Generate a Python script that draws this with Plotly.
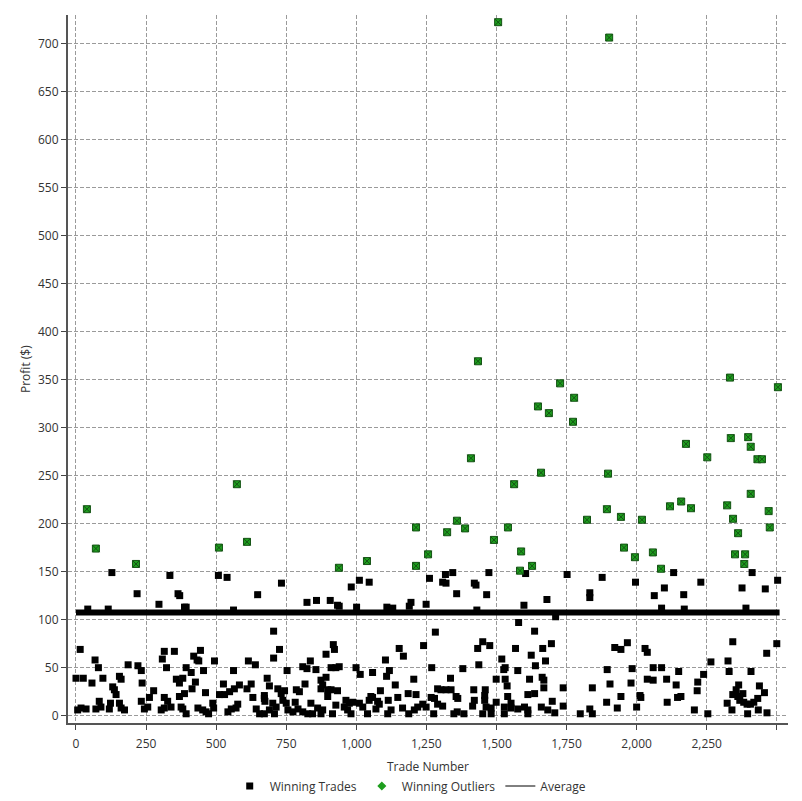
import plotly.graph_objects as go

# ---------------- data ----------------
win_trade_num = [
    128, 335, 218, 364, 370, 296, 387, 393, 42, 115,
    15, 315, 351, 308, 68, 80, 323, 186, 221, 233, 393,
    0, 26, 57, 96, 155, 161, 131, 137, 143, 236, 358, 369, 381,
    277, 262, 315, 327, 369, 387,
    18, 36, 6, 83, 89, 71, 123, 119, 155, 161, 173, 233, 256, 244, 315, 304, 339, 375, 393, 381,
    508, 539, 733, 648, 824, 562,
    705, 726, 705, 444, 420, 432, 438, 494, 615, 640, 455, 411, 562, 753, 809, 824,
    426, 682, 526, 414, 462, 583, 565, 548, 530, 512, 625, 610, 690, 720, 744, 732,
    631, 672, 672, 674, 702, 714, 786, 797, 817, 782, 488, 491,
    435, 452, 464, 473, 542, 554, 577, 571, 643, 655, 672, 690, 708, 738, 750, 756, 774, 792, 809, 827,
    1011, 1046, 982, 858, 907, 933, 939, 1001, 1109, 1130, 1189, 1195, 1249,
    918, 922, 892, 1153, 1168, 1240, 1104, 836, 856, 910, 927, 939, 999, 1014, 1058, 1118, 1108, 1205,
    892, 874, 880, 874, 898, 910, 933, 1139, 1086, 1185, 1213, 1148, 1114, 1052, 1058, 1046, 898, 838,
    963, 975, 987, 1011, 1023, 927, 1076, 1082, 1165, 1219, 1237, 1249,
    862, 880, 844, 874, 915, 957, 969, 981, 1040, 1070, 1112, 1124, 1187, 1207,
    1604, 1473, 1344, 1318, 1261, 1308, 1320, 1421, 1427, 1358, 1465, 1680, 1598, 1430,
    1579, 1636, 1282, 1451, 1476, 1433, 1568, 1665, 1624, 1519, 1675, 1437, 1639, 1269, 1380, 1531, 1526, 1576,
    1336, 1499, 1531, 1538, 1618, 1663, 1669, 1669, 1290, 1302, 1320, 1338, 1419, 1460,
    1540, 1612, 1636, 1356, 1362, 1267, 1279, 1458, 1458, 1290, 1308, 1421, 1415, 1499, 1463, 1481,
    1528, 1528, 1552, 1552, 1576, 1600, 1612, 1612, 1660, 1683,
    1276, 1348, 1360, 1384, 1451, 1481,
    1752, 1877, 1996, 1833, 1833, 2099, 2063, 2089, 1711,
    1696, 1967, 1922, 1944, 2030, 2038, 1895, 1984, 2059, 2089, 2038, 2059, 2107, 1980, 1905, 1738, 1842,
    1944, 2012, 2015, 1699, 1893, 2109, 1738, 1708, 1799, 1833, 1842, 1931, 2000,
    2132, 2412, 2503, 2229, 2376, 2459, 2168, 2390, 2170,
    2343, 2500, 2464, 2265, 2326, 2150, 2239, 2330, 2408, 2141, 2218, 2216, 2146, 2158, 2206, 2254,
    2364, 2355, 2343, 2361, 2379, 2368, 2382, 2394, 2406, 2418, 2432, 2438, 2456, 2323, 2340, 2396, 2434, 2465,
]
win_profit = [
    149, 146, 127, 127, 125, 116, 113, 113, 111, 111,
    69, 67, 67, 59, 58, 50, 50, 53, 52, 47, 50,
    39, 39, 34, 39, 41, 38, 30, 27, 22, 34, 38, 34, 39,
    26, 19, 19, 15, 20, 23,
    8, 7, 6, 15, 9, 7, 13, 7, 13, 8, 6, 15, 9, 7, 8, 6, 9, 9, 2, 7,
    146, 144, 138, 126, 118, 110,
    88, 69, 60, 68, 62, 58, 57, 57, 57, 53, 47, 45, 47, 47, 51, 49,
    35, 39, 33, 28, 24, 32, 28, 25, 22, 22, 33, 28, 31, 28, 26, 23,
    19, 21, 18, 15, 13, 9, 27, 25, 33, 14, 13, 8,
    8, 6, 4, 2, 4, 7, 12, 8, 7, 2, 2, 6, 2, 16, 13, 6, 4, 7, 4, 2,
    141, 139, 134, 120, 120, 115, 114, 113, 113, 112, 114, 118, 116,
    74, 69, 64, 70, 62, 73, 58, 57, 48, 50, 50, 51, 50, 43, 45, 47, 41, 38,
    40, 37, 32, 28, 27, 27, 26, 32, 26, 23, 22, 19, 16, 20, 19, 16, 20, 13,
    16, 13, 14, 13, 9, 11, 15, 12, 8, 9, 12, 9,
    8, 6, 2, 2, 2, 9, 6, 2, 2, 7, 2, 6, 2, 6,
    148, 149, 149, 147, 143, 139, 138, 138, 136, 127, 126, 121, 115, 110,
    97, 88, 87, 77, 73, 70, 70, 70, 63, 59, 57, 53, 52, 50, 49, 50, 48, 47,
    39, 38, 38, 31, 38, 40, 37, 29, 28, 27, 27, 27, 27, 27,
    20, 22, 23, 20, 18, 19, 18, 21, 16, 12, 10, 16, 10, 14, 9, 8,
    9, 2, 13, 8, 7, 9, 6, 2, 9, 6,
    2, 2, 4, 2, 2, 2,
    147, 144, 139, 128, 123, 133, 125, 112, 103,
    75, 76, 71, 69, 70, 66, 48, 49, 50, 50, 38, 37, 38, 34, 33, 29, 29,
    20, 21, 19, 15, 14, 14, 10, 3, 2, 7, 2, 8, 9,
    149, 149, 141, 139, 133, 132, 126, 112, 111,
    77, 75, 65, 56, 57, 46, 43, 46, 46, 32, 35, 26, 19, 20, 6, 2,
    32, 27, 22, 20, 23, 16, 14, 12, 12, 14, 18, 31, 24, 13, 6, 2, 6, 3,
]

outlier_trade_num = [
    39, 71, 214, 510, 574, 610, 938, 1038, 1213, 1213, 1256, 1324, 1359, 1388,
    1409, 1434, 1491, 1506, 1541, 1563, 1588, 1584, 1627, 1648, 1659, 1687,
    1727, 1777, 1773, 1823, 1894, 1898, 1902, 1944, 1955, 1994, 2019, 2058,
    2087, 2119, 2159, 2176, 2194, 2252, 2323, 2333, 2336, 2398, 2407, 2431,
    2447, 2407, 2344, 2471, 2475, 2504, 2362, 2351, 2387, 2384,
]
outlier_profit = [
    215, 174, 158, 175, 241, 181, 154, 161, 196, 156, 168, 191, 203, 195,
    268, 369, 183, 722, 196, 241, 171, 151, 156, 322, 253, 315,
    346, 331, 306, 204, 215, 252, 706, 207, 175, 165, 204, 170,
    153, 218, 223, 283, 216, 269, 219, 352, 289, 290, 280, 267,
    267, 231, 205, 213, 196, 342, 190, 168, 168, 158,
]

average_profit = 107.5
average_span = [0, 2510]

x_tick_vals = [0, 250, 500, 750, 1000, 1250, 1500, 1750, 2000, 2250, 2500]
x_tick_text = ["0", "250", "500", "750", "1,000", "1,250", "1,500", "1,750", "2,000", "2,250", ""]
y_tick_vals = list(range(0, 701, 50))

FONT = "Open Sans"
GREEN = "#1e9e1e"

fig = go.Figure()

fig.add_trace(go.Scatter(
    x=average_span, y=[average_profit, average_profit], mode="lines",
    line=dict(color="black", width=6), showlegend=False, hoverinfo="skip",
))
fig.add_trace(go.Scatter(
    x=win_trade_num, y=win_profit, mode="markers",
    marker=dict(symbol="square", size=7, color="black"),
    showlegend=False,
))
fig.add_trace(go.Scatter(
    x=outlier_trade_num, y=outlier_profit, mode="markers",
    marker=dict(symbol="square-x", size=7, color=GREEN,
                line=dict(color="#145214", width=1)),
    showlegend=False,
))

# legend entries
fig.add_trace(go.Scatter(x=[None], y=[None], mode="markers", name="Winning Trades",
                         marker=dict(symbol="square", size=7, color="black")))
fig.add_trace(go.Scatter(x=[None], y=[None], mode="markers", name="Winning Outliers",
                         marker=dict(symbol="diamond", size=7, color=GREEN)))
fig.add_trace(go.Scatter(x=[None], y=[None], mode="lines", name="Average",
                         line=dict(color="black", width=1)))

axis_common = dict(
    showgrid=True, gridcolor="#9a9a9a", griddash="4px,2px", gridwidth=1,
    zeroline=False, showline=True, linecolor="#555555", linewidth=2,
    ticks="outside", ticklen=5, tickcolor="#444444", tickwidth=1,
    tickfont=dict(family=FONT, size=12, color="#333333"),
    automargin=False,
)

fig.update_xaxes(range=[-28.5, 2540], tickmode="array", tickvals=x_tick_vals,
                 ticktext=x_tick_text, ticklabelstandoff=4, **axis_common)
fig.update_yaxes(range=[-7.6, 729.5], tickmode="array", tickvals=y_tick_vals,
                 **axis_common)

# page body has an 8px margin, so the figure is offset by 8px
fig.update_layout(
    width=794, height=793,
    margin=dict(l=60, r=14, t=7, b=78, autoexpand=False),
    plot_bgcolor="white", paper_bgcolor="white",
    font=dict(family=FONT, size=12, color="#333333"),
    showlegend=True,
    legend=dict(orientation="h", x=0.476, xanchor="center", y=-0.089, yanchor="middle",
                font=dict(family=FONT, size=12, color="#333333"),
                itemwidth=30, tracegroupgap=0, bgcolor="rgba(0,0,0,0)"),
    annotations=[
        dict(text="Trade Number", xref="paper", yref="paper", x=0.5, y=0,
             xanchor="center", yanchor="middle", yshift=-43, showarrow=False,
             font=dict(family=FONT, size=12, color="#333333")),
        dict(text="Profit ($)", xref="paper", yref="paper", x=0, y=0.5,
             xanchor="center", yanchor="middle", xshift=-43, textangle=-90,
             showarrow=False, font=dict(family=FONT, size=12, color="#333333")),
    ],
)

fig.write_html("out.html")
